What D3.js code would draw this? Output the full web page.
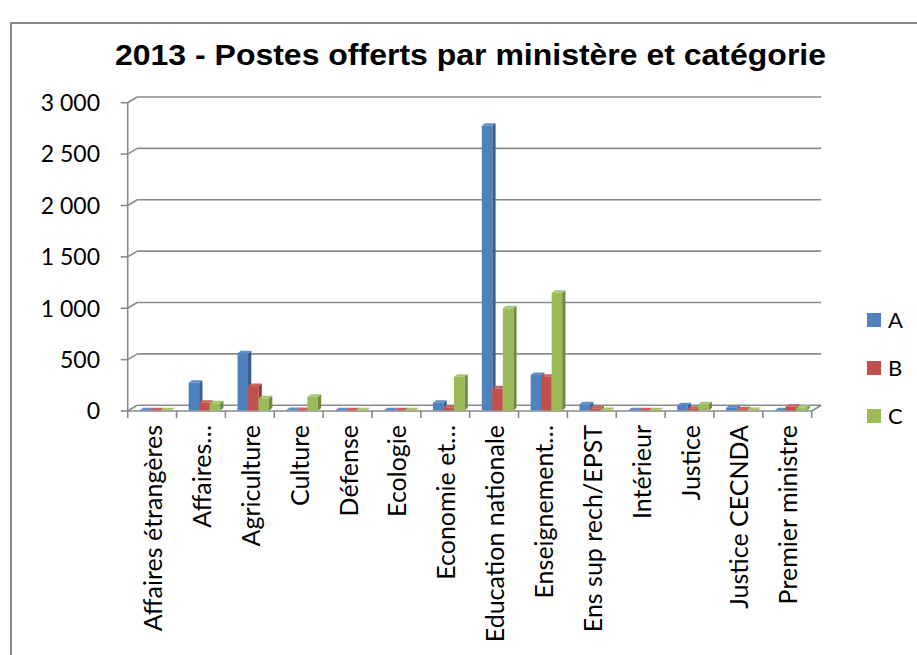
<!DOCTYPE html>
<html>
<head>
<meta charset="utf-8">
<script src="https://cdn.jsdelivr.net/npm/d3@7"></script>
<style>
  body { margin: 0; background: #fff; }
  text { font-family: Lato, "Open Sans", sans-serif; fill: #000; }
</style>
</head>
<body>
<svg id="chart" width="917" height="655"></svg>
<script>
// data
const categories = [
  "Affaires étrangères", "Affaires…", "Agriculture", "Culture", "Défense",
  "Ecologie", "Economie et…", "Education nationale", "Enseignement…",
  "Ens sup rech/EPST", "Intérieur", "Justice", "Justice CECNDA", "Premier ministre"
];
const seriesNames = ["A", "B", "C"];
const valuesA = [3, 270, 556, 4, 3, 3, 75, 2770, 345, 60, 3, 52, 27, 3];
const valuesB = [3, 76, 238, 4, 3, 3, 30, 216, 329, 21, 3, 18, 13, 37];
const valuesC = [3, 70, 118, 134, 3, 3, 329, 994, 1146, 5, 3, 60, 5, 27];
const yTicks = [0, 500, 1000, 1500, 2000, 2500, 3000];

const colors = {
  A: { front: "#4F81BD", side: "#395F8E", top: "#5F8ECB" },
  B: { front: "#C0504D", side: "#8F3A38", top: "#CC625F" },
  C: { front: "#9BBB59", side: "#718A40", top: "#A9C86C" }
};

const svg = d3.select("#chart");

// frame
svg.append("rect")
  .attr("x", 11).attr("y", 23)
  .attr("width", 920).attr("height", 650)
  .attr("fill", "none")
  .attr("stroke", "#8a8a8a")
  .attr("stroke-width", 2);

// title
svg.append("text")
  .attr("x", 470.5)
  .attr("y", 64.5)
  .attr("text-anchor", "middle")
  .attr("textLength", 711)
  .attr("lengthAdjust", "spacingAndGlyphs")
  .style("font-family", "'Liberation Sans', Arial, sans-serif")
  .style("font-weight", "bold")
  .style("font-size", "29px")
  .text("2013 - Postes offerts par ministère et catégorie");

const x = d3.scaleBand().domain(categories).range([127.7, 811.7]);
const y = d3.scaleLinear().domain([0, 3000]).range([411, 102.7]);
const depth = { dx: 9.5, dy: -5.7 };
const inner = d3.scaleBand().domain(seriesNames).range([0, 31.5]);
const barDepth = { dx: 3.3, dy: -2.5 };
const fmt = d3.formatLocale({ decimal: ",", thousands: " ", grouping: [3], currency: ["", " €"] }).format(",d");

const grid = svg.append("g").attr("stroke", "#8a8a8a").attr("stroke-width", 1.6).attr("fill", "none");
const x0 = x.range()[0], x1 = x.range()[1];

// back wall gridlines with the little diagonal at the left
yTicks.forEach(t => {
  grid.append("line")
    .attr("x1", x0 + depth.dx).attr("x2", x1 + depth.dx)
    .attr("y1", y(t) + depth.dy).attr("y2", y(t) + depth.dy);
  grid.append("line")
    .attr("x1", x0).attr("y1", y(t))
    .attr("x2", x0 + depth.dx).attr("y2", y(t) + depth.dy);
  grid.append("line")
    .attr("x1", x0 - 7).attr("x2", x0)
    .attr("y1", y(t)).attr("y2", y(t));
});

// vertical axis
grid.append("line")
  .attr("x1", x0).attr("x2", x0)
  .attr("y1", y(3000)).attr("y2", y(0));

// floor
grid.append("path")
  .attr("d", `M${x0},${y(0)} L${x1},${y(0)} L${x1 + depth.dx},${y(0) + depth.dy}`);

// category ticks
x.domain().concat([null]).forEach(c => {
  const xx = c === null ? x1 : x(c);
  grid.append("line")
    .attr("x1", xx).attr("x2", xx)
    .attr("y1", y(0)).attr("y2", y(0) + 7);
});

// y labels
svg.append("g")
  .selectAll("text")
  .data(yTicks)
  .join("text")
  .attr("x", 100)
  .attr("y", d => y(d))
  .attr("dy", "0.36em")
  .attr("text-anchor", "end")
  .style("font-size", "23px")
  .text(d => fmt(d));

// bars
const rows = [];
categories.forEach((c, i) => {
  rows.push({ cat: c, s: "A", v: valuesA[i] });
  rows.push({ cat: c, s: "B", v: valuesB[i] });
  rows.push({ cat: c, s: "C", v: valuesC[i] });
});

const bars = svg.append("g");
const groupOffset = 12.1;
rows.forEach(d => {
  const bx = x(d.cat) + groupOffset + inner(d.s);
  const bw = inner.bandwidth();
  const top = y(d.v) - 0.5;
  const base = y(0) - 0.5;
  const g = bars.append("g");
  // side face
  g.append("path")
    .attr("d", `M${bx + bw},${top} L${bx + bw + barDepth.dx},${top + barDepth.dy} L${bx + bw + barDepth.dx},${base + barDepth.dy} L${bx + bw},${base} Z`)
    .attr("fill", colors[d.s].side);
  // top face
  g.append("path")
    .attr("d", `M${bx},${top} L${bx + barDepth.dx},${top + barDepth.dy} L${bx + bw + barDepth.dx},${top + barDepth.dy} L${bx + bw},${top} Z`)
    .attr("fill", colors[d.s].top);
  // front face
  g.append("rect")
    .attr("x", bx).attr("y", top)
    .attr("width", bw).attr("height", base - top)
    .attr("fill", colors[d.s].front);
});

// category labels
svg.append("g")
  .selectAll("text")
  .data(categories)
  .join("text")
  .attr("transform", d => `translate(${x(d) + x.bandwidth() / 2 + 1},${425}) rotate(-90)`)
  .attr("dy", "0.36em")
  .attr("text-anchor", "end")
  .style("font-size", "25px")
  .text(d => d);

// legend
const legend = svg.append("g")
  .selectAll("g")
  .data(seriesNames)
  .join("g")
  .attr("transform", (d, i) => `translate(867,${313 + i * 48})`);
legend.append("rect")
  .attr("width", 14).attr("height", 14)
  .attr("fill", d => colors[d].front);
legend.append("text")
  .attr("x", 21).attr("y", 7)
  .attr("dy", "0.36em")
  .style("font-size", "22px")
  .text(d => d);
</script>
</body>
</html>
